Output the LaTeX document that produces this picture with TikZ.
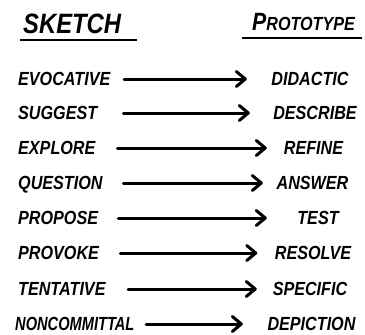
\documentclass[tikz,border=0pt]{standalone}
\usepackage{fontspec}
\setmainfont{Liberation Sans}
\newfontfamily\hand[FakeStretch=0.85]{Liberation Sans}
\newfontfamily\handnarrow[FakeStretch=0.77]{Liberation Sans}
\usetikzlibrary{arrows.meta}
\begin{document}
\begin{tikzpicture}[x=1pt,y=-1pt,
word/.style={inner sep=0pt,anchor=west,text height=13.6pt,text depth=0pt,font=\hand\fontsize{19}{19}\selectfont\bfseries\itshape},
head/.style={inner sep=0pt,anchor=base west,font=\hand\bfseries\itshape},
link/.style={line width=3pt,line cap=round,-{Straight Barb[length=9pt,width=15pt,round]}},
rule/.style={line width=2pt}
]
\useasboundingbox (0,0) rectangle (365,335);
% headings
\node[head] (sk) at (23,33) {\fontsize{28}{28}\selectfont SKETCH};
\node[head] (pt) at (252,30) {{\fontsize{25}{25}\selectfont P}{\fontsize{19}{19}\selectfont ROTOTYPE}};
\draw[rule] (20,39.5) -- (137,39.5);
\draw[rule] (242,38) -- (362,38);
% sketch side
\node[word] (s1) at (18,79) {EVOCATIVE};
\node[word] (s2) at (18,113) {SUGGEST};
\node[word] (s3) at (18,148) {EXPLORE};
\node[word] (s4) at (18,183) {QUESTION};
\node[word] (s5) at (18,218) {PROPOSE};
\node[word] (s6) at (18,253) {PROVOKE};
\node[word] (s7) at (18,289) {TENTATIVE};
\node[word,font=\handnarrow\fontsize{19}{19}\selectfont\bfseries\itshape] (s8) at (15,324) {NONCOMMITTAL};
% prototype side
\node[word,anchor=center] (p1) at (310,79) {DIDACTIC};
\node[word,anchor=center] (p2) at (315,113) {DESCRIBE};
\node[word,anchor=center] (p3) at (313.5,148) {REFINE};
\node[word,anchor=center] (p4) at (312.5,183) {ANSWER};
\node[word,anchor=center] (p5) at (318,218) {TEST};
\node[word,anchor=center] (p6) at (313,253) {RESOLVE};
\node[word,anchor=center] (p7) at (310,289) {SPECIFIC};
\node[word,anchor=center] (p8) at (311.5,324) {DEPICTION};
% arrows
\draw[link,shorten <=13.7pt,shorten >=24.4pt] (s1) -- (p1);
\draw[link,shorten <=26pt,shorten >=23.3pt] (s2) -- (p2);
\draw[link,shorten <=21.8pt,shorten >=16.9pt] (s3) -- (p3);
\draw[link,shorten <=20.6pt,shorten >=13.6pt] (s4) -- (p4);
\draw[link,shorten <=20.1pt,shorten >=30.4pt] (s5) -- (p5);
\draw[link,shorten <=21.2pt,shorten >=17.4pt] (s6) -- (p6);
\draw[link,shorten <=22.3pt,shorten >=15.8pt] (s7) -- (p7);
\draw[link,shorten <=11.5pt,shorten >=24.5pt] (s8) -- (p8);
\end{tikzpicture}
\end{document}
